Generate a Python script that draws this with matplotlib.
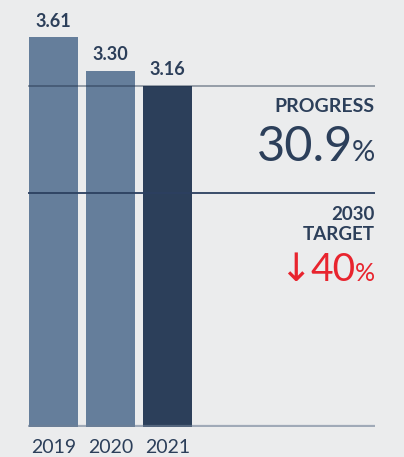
import numpy as np
import matplotlib
matplotlib.use('Agg')
import matplotlib.pyplot as plt

YEARS = ['2019', '2020', '2021']
VALUES = [3.61, 3.30, 3.16]
PROGRESS_PCT = 30.9
TARGET_CUT_PCT = 40

BG = '#ebeced'
LIGHT = '#657e9b'
DARK = '#2c3f5a'
RED = '#e8242e'

plt.rcParams['font.family'] = ['Lato', 'DejaVu Sans']

W, H = 404, 457
fig = plt.figure(figsize=(W / 100, H / 100), dpi=100, facecolor=BG)
# axes spans full width; bottom at baseline (y=427 px from top)
base_px = 427
ax = fig.add_axes([0, (H - base_px) / H, 1, base_px / H])
ax.set_facecolor(BG)
px_per_unit = 108.0
ax.set_ylim(0, base_px / px_per_unit)
step = 57.0
c0 = 53.5
ax.set_xlim(-c0 / step, (W - c0) / step)
ax.axis('off')

x = np.arange(len(VALUES))
colors = [LIGHT, LIGHT, DARK]
ax.bar(x, VALUES, width=49 / step, color=colors, zorder=2)

x_left = (28 - c0) / step
x_right = (375 - c0) / step
target = VALUES[0] * (1 - TARGET_CUT_PCT / 100)

ax.hlines(VALUES[-1], x_left, x_right, color='#1f2f47', alpha=0.45, lw=1.3, zorder=3)
ax.hlines(target, x_left, x_right, color='#2c4060', lw=1.3, zorder=3)
ax.hlines(0.01, x_left, x_right, color='#6f7f95', alpha=0.6, lw=1.6, zorder=3)

for xi, v in zip(x, VALUES):
    ax.text(xi, v + 0.07, f'{v:.2f}', ha='center', va='bottom',
            fontsize=13, fontweight='bold', color=DARK)

for xi, yr in zip(x, YEARS):
    ax.text(xi, -0.19, yr, ha='center', va='center', fontsize=14,
            color=DARK, clip_on=False)


# right-side annotations, positioned in pixels from the top-left
def fy(py):
    return 1 - py / H


renderer = fig.canvas.get_renderer()


def num_pct(num, py, big, small, color, gap=-1):
    pct = fig.text(375 / W, fy(py), '%', ha='right', va='baseline',
                   fontsize=small, color=color)
    pw = pct.get_window_extent(renderer).width
    t = fig.text((375 - pw - gap) / W, fy(py), num, ha='right', va='baseline',
                 fontsize=big, color=color)
    return t.get_window_extent(renderer).x0


fig.text(375 / W, fy(106), 'PROGRESS', ha='right', va='center', fontsize=14,
         fontweight='bold', color=DARK)
num_pct(f'{PROGRESS_PCT}', 161, 35, 21, DARK)

fig.text(375 / W, fy(214), '2030', ha='right', va='center', fontsize=13.5,
         fontweight='bold', color=DARK)
fig.text(375 / W, fy(234), 'TARGET', ha='right', va='center', fontsize=13.5,
         fontweight='bold', color=DARK)
x40 = num_pct(f'{TARGET_CUT_PCT}', 281, 28, 18, RED)
fig.text((x40 + 1) / W, fy(281), '\u2193', ha='right', va='baseline',
         fontsize=28, color=RED, family=['DejaVu Sans'])

fig.savefig('out.png', dpi=100, facecolor=BG)
